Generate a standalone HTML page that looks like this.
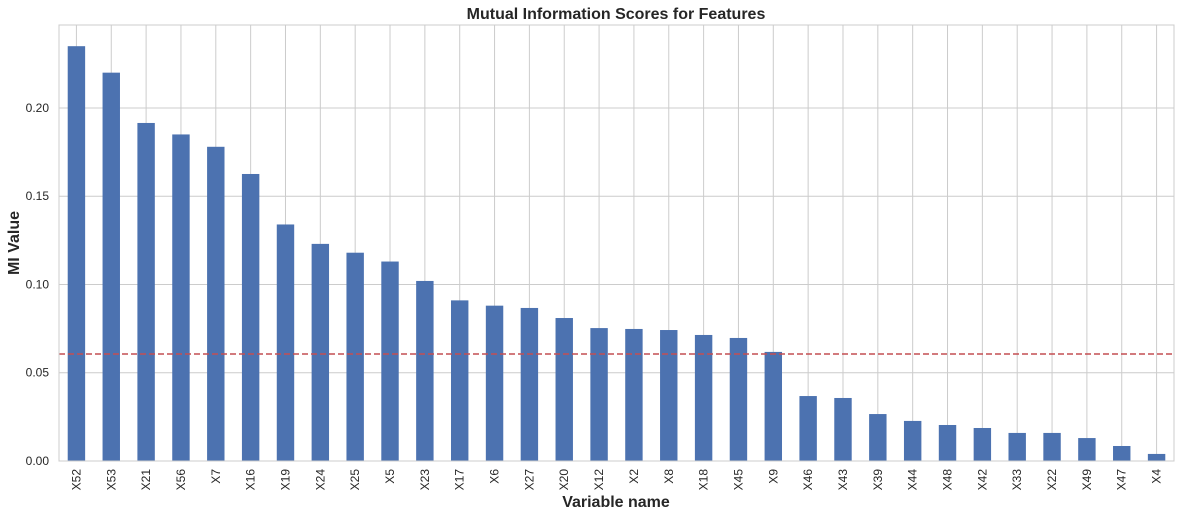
<!DOCTYPE html>
<html><head><meta charset="utf-8"><style>
body{margin:0;background:#fff;font-family:"Liberation Sans",sans-serif}
svg{display:block}
</style></head><body>
<svg id="chart" width="1182" height="517" xmlns="http://www.w3.org/2000/svg">
<text x="616" y="19" text-anchor="middle" font-size="16" font-weight="bold" fill="#262626">Mutual Information Scores for Features</text>
<text x="616" y="507" text-anchor="middle" font-size="16" font-weight="bold" fill="#262626">Variable name</text>
<text transform="translate(19,243) rotate(-90)" text-anchor="middle" font-size="16" font-weight="bold" fill="#262626">MI Value</text>
<g id="grid"></g><g id="bars"></g><g id="ticks"></g>
<rect x="59" y="25" width="1115" height="436" fill="none" stroke="#cccccc" stroke-width="1"/>
</svg>
<script>
const categories=["X52","X53","X21","X56","X7","X16","X19","X24","X25","X5","X23","X17","X6","X27","X20","X12","X2","X8","X18","X45","X9","X46","X43","X39","X44","X48","X42","X33","X22","X49","X47","X4"];
const miValues=[0.235,0.220,0.1915,0.185,0.178,0.1626,0.134,0.123,0.118,0.113,0.102,0.091,0.088,0.0867,0.081,0.0753,0.0748,0.0742,0.0714,0.0697,0.0618,0.0368,0.0357,0.0266,0.0227,0.0204,0.0187,0.0159,0.0159,0.013,0.0085,0.004];
const yTicks=[0,0.05,0.10,0.15,0.20];
const yTickLabels=["0.00","0.05","0.10","0.15","0.20"];
const threshold=[0.0606];
const NS="http://www.w3.org/2000/svg";
const L=59,R=1174,T=25,B=461,YMAX=0.247;
const n=categories.length;
const step=(R-L)/n;
function xc(i){return L+step*(i+0.5);}
function y(v){return B-(v/YMAX)*(B-T);}
function mk(tag,attrs,parent){const e=document.createElementNS(NS,tag);for(const k in attrs)e.setAttribute(k,attrs[k]);parent.appendChild(e);return e;}
const grid=document.getElementById('grid'),bars=document.getElementById('bars'),ticks=document.getElementById('ticks');
yTicks.forEach((t,i)=>{
  const g=mk('line',{x1:L,x2:R,y1:y(t),y2:y(t),stroke:'#cccccc','stroke-width':1},grid);
  
  
  const tx=mk('text',{x:L-10,y:y(t)+4,'text-anchor':'end','font-size':12,fill:'#262626'},ticks);
  tx.textContent=yTickLabels[i];
  
  
});
categories.forEach((c,i)=>{
  const g=mk('line',{x1:xc(i),x2:xc(i),y1:T,y2:B,stroke:'#cccccc','stroke-width':1},grid);
  
  
});
categories.forEach((c,i)=>{
  const bw=step*0.5;
  const r=mk('rect',{x:xc(i)-bw/2,y:y(miValues[i]),width:bw,height:B-y(miValues[i]),fill:'#4c72b0'},bars);
  
  
  const tx=mk('text',{transform:`translate(${xc(i)+4},${B+8}) rotate(-90)`,'text-anchor':'end','font-size':12,fill:'#262626'},ticks);
  tx.textContent=c;
  
  
});
const th=mk('line',{x1:L,x2:R,y1:y(threshold[0]),y2:y(threshold[0]),stroke:'#c44e52','stroke-width':1.5,'stroke-dasharray':'6,3'},bars);


</script>
</body></html>
